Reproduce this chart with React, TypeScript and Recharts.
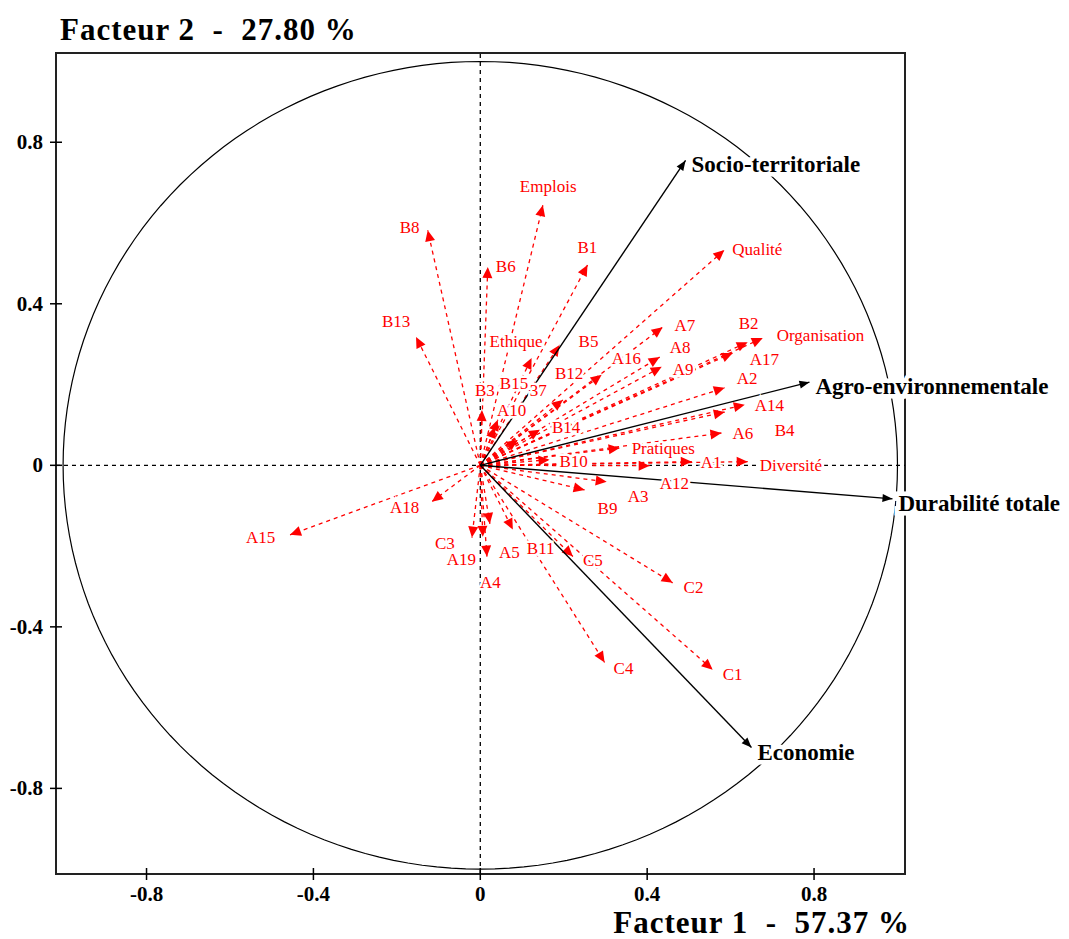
import React from "react";
import {
  ScatterChart,
  Scatter,
  XAxis,
  YAxis,
  ReferenceLine,
  ReferenceArea,
} from "recharts";

// variables (red dashed vectors)
const varNames = [
  "Emplois", "B8", "B6", "B1", "Qualité", "B13", "Ethique", "B5", "A7", "A16",
  "A8", "A9", "B12", "B2", "Organisation", "A17", "A2", "A14", "B4", "A6",
  "Pratiques", "A1", "Diversité", "B10", "A12", "A3", "B9", "B14", "A10", "B3",
  "B15", "37", "A18", "A15", "C3", "A19", "A4", "A5", "B11", "C5",
  "C2", "C1", "C4",
];
const varF1 = [
  0.150, -0.126, 0.018, 0.257, 0.585, -0.154, 0.123, 0.190, 0.437, 0.291,
  0.430, 0.435, 0.198, 0.641, 0.677, 0.605, 0.586, 0.634, 0.586, 0.578,
  0.334, 0.507, 0.641, 0.166, 0.406, 0.303, 0.250, 0.143, 0.035, 0.004,
  0.042, 0.090, -0.116, -0.456, -0.020, 0.006, 0.016, 0.023, 0.078, 0.222,
  0.461, 0.557, 0.298,
];
const varF2 = [
  0.644, 0.582, 0.491, 0.496, 0.533, 0.318, 0.266, 0.298, 0.342, 0.224,
  0.268, 0.244, 0.162, 0.305, 0.315, 0.278, 0.192, 0.150, 0.132, 0.080,
  0.043, 0.009, 0.009, 0.014, -0.001, -0.041, -0.061, 0.088, 0.095, 0.137,
  0.113, 0.063, -0.090, -0.172, -0.179, -0.177, -0.226, -0.145, -0.159, -0.226,
  -0.291, -0.506, -0.488,
];

// the four dimensions (black vectors)
const dimNames = ["Socio-territoriale", "Agro-environnementale", "Durabilité totale", "Economie"];
const dimF1 = [0.492, 0.789, 0.988, 0.65];
const dimF2 = [0.755, 0.206, -0.083, -0.699];

const axisTicks = [-0.8, -0.4, 0, 0.4, 0.8];

// label placement relative to arrow tip: [dx to text start, dy to text middle]
const labelNudge: Record<string, [number, number]> = {
  Emplois: [-23, -19], B8: [-28, -3], B6: [8, -1], B1: [-10, -18], "Qualité": [8, -1],
  B13: [-34, -16], Ethique: [-42, -17], B5: [19, -4], A7: [12, -2], A16: [10, -17],
  A8: [10, -10], A9: [11, 2], B12: [-8, -27], B2: [-9, -19], Organisation: [14, -3],
  A17: [17, 6], A2: [12, -10], A14: [10, 0], B4: [50, 18], A6: [11, 0],
  Pratiques: [12, 0], A1: [9, 0], "Diversité": [12, 3], B10: [10, 1], A12: [10, 17],
  A3: [21, 14], B9: [13, 18], B14: [12, -3], A10: [2, -17], B3: [-7, -20],
  B15: [2, -37], "37": [12, -50], A18: [-42, 5], A15: [-44, 2], C3: [-37, 5],
  A19: [-36, 22], A4: [-7, 25], A5: [9, 28], B11: [14, 18], C5: [10, 3],
  C2: [11, 4], C1: [10, 4], C4: [9, 6],
};

const W = 1069;
const H = 939;
const margin = { top: 53, right: 164, bottom: 25, left: 0 };
const yAxisW = 56;
const xAxisH = 40;
const xMin = -1.017;
const xMax = 1.018;
const yMin = -1.012;
const yMax = 1.021;
const plotW = W - margin.left - margin.right - yAxisW;
const plotH = H - margin.top - margin.bottom - xAxisH;
const kx = plotW / (xMax - xMin);
const ky = plotH / (yMax - yMin);

const RED = "#ff0000";
const SERIF = "'Liberation Serif', 'Times New Roman', serif";

const circle = Array.from({ length: 181 }, (_, i) => {
  const t = (i / 180) * Math.PI * 2;
  return { x: Math.cos(t), y: Math.sin(t) };
});

function headPoints(cx: number, cy: number, vx: number, vy: number, len: number, half: number) {
  const px = vx * kx;
  const py = -vy * ky;
  const n = Math.hypot(px, py) || 1;
  const ux = px / n;
  const uy = py / n;
  const bx = cx - ux * len;
  const by = cy - uy * len;
  return `${cx},${cy} ${bx - uy * half},${by + ux * half} ${bx + uy * half},${by - ux * half}`;
}

const redHead = (props: any) => {
  const { cx, cy, payload } = props;
  if (!payload || !payload.name) return <g />;
  return <polygon points={headPoints(cx, cy, payload.x, payload.y, 11, 5)} fill={RED} />;
};

const blackHead = (props: any) => {
  const { cx, cy, payload } = props;
  if (!payload || !payload.name) return <g />;
  return <polygon points={headPoints(cx, cy, payload.x, payload.y, 10, 4)} fill="#000" />;
};

const redLabel = (props: any) => {
  const { cx, cy, payload } = props;
  const [dx, dy] = labelNudge[payload.name] || [10, 0];
  return (
    <text
      x={cx + dx}
      y={cy + dy + 6}
      fill={RED}
      stroke="#fff"
      strokeWidth={5}
      paintOrder="stroke"
      fontFamily={SERIF}
      fontSize={17}
    >
      {payload.name}
    </text>
  );
};

const blackLabel = (props: any) => {
  const { cx, cy, payload } = props;
  return (
    <text
      x={cx + 6}
      y={cy + 12}
      fill="#000"
      stroke="#fff"
      strokeWidth={9}
      paintOrder="stroke"
      fontFamily={SERIF}
      fontWeight="bold"
      fontSize={23}
    >
      {payload.name}
    </text>
  );
};

const noDot = () => <g />;

const fmt = (v: number) => (v === 0 ? "0" : v.toFixed(1));

const XTick = (props: any) => {
  const { x, y, payload } = props;
  return (
    <g>
      <line x1={x} x2={x} y1={y - 6} y2={y + 6} stroke="#000" strokeWidth={1.5} />
      <text x={x} y={y + 27} textAnchor="middle" fontFamily={SERIF} fontWeight="bold" fontSize={21} fill="#000">
        {fmt(payload.value)}
      </text>
    </g>
  );
};

const YTick = (props: any) => {
  const { x, y, payload } = props;
  return (
    <g>
      <line x1={x - 6} x2={x + 6} y1={y} y2={y} stroke="#000" strokeWidth={1.5} />
      <text x={x - 13} y={y + 7} textAnchor="end" fontFamily={SERIF} fontWeight="bold" fontSize={21} fill="#000">
        {fmt(payload.value)}
      </text>
    </g>
  );
};

export default function App() {
  const vars = varNames.map((name, i) => ({ name, x: varF1[i], y: varF2[i] }));
  const dims = dimNames.map((name, i) => ({ name, x: dimF1[i], y: dimF2[i] }));

  return (
    <div style={{ position: "absolute", left: 0, top: 0, width: W, height: H, background: "#fff" }}>
      <ScatterChart width={W} height={H} margin={margin}>
        <XAxis
          type="number"
          dataKey="x"
          domain={[xMin, xMax]}
          ticks={axisTicks}
          height={xAxisH}
          tickSize={0}
          tickMargin={0}
          tickLine={false}
          axisLine={{ stroke: "#222", strokeWidth: 2 }}
          tick={<XTick />}
          interval={0}
        />
        <YAxis
          type="number"
          dataKey="y"
          domain={[yMin, yMax]}
          ticks={axisTicks}
          width={yAxisW}
          tickSize={0}
          tickMargin={0}
          tickLine={false}
          axisLine={{ stroke: "#222", strokeWidth: 2 }}
          tick={<YTick />}
          interval={0}
        />
        <ReferenceLine x={0} stroke="#000" strokeWidth={1.3} strokeDasharray="4 4" />
        <ReferenceLine y={0} stroke="#000" strokeWidth={1.3} strokeDasharray="4 4" />
        <Scatter
          data={circle}
          line={{ stroke: "#000", strokeWidth: 1.2 }}
          lineType="joint"
          shape={noDot}
          isAnimationActive={false}
        />
        {vars.map((v) => (
          <Scatter
            key={v.name}
            data={[{ x: 0, y: 0, name: "" }, v]}
            fill={RED}
            line={{ stroke: RED, strokeWidth: 1.3, strokeDasharray: "4 4" }}
            lineType="joint"
            shape={redHead}
            isAnimationActive={false}
          />
        ))}
        {dims.map((d) => (
          <Scatter
            key={d.name}
            data={[{ x: 0, y: 0, name: "" }, d]}
            fill="#000"
            line={{ stroke: "#000", strokeWidth: 1.4 }}
            lineType="joint"
            shape={blackHead}
            isAnimationActive={false}
          />
        ))}
        <Scatter data={vars} shape={redLabel} isAnimationActive={false} />
        <ReferenceArea
          x1={xMin}
          x2={xMax}
          y1={yMin}
          y2={yMax}
          fill="none"
          stroke="#222"
          strokeWidth={2}
          ifOverflow="visible"
        />
        <Scatter data={dims} shape={blackLabel} isAnimationActive={false} />
      </ScatterChart>
      <svg
        width={W}
        height={H}
        style={{ position: "absolute", left: 0, top: 0, pointerEvents: "none" }}
      >
        <text x={60} y={40} fontFamily={SERIF} fontWeight="bold" fontSize={31} letterSpacing={1} fill="#000" style={{ whiteSpace: "pre" }}>
          {"Facteur 2  -  27.80 %"}
        </text>
        <text x={910} y={933} textAnchor="end" fontFamily={SERIF} fontWeight="bold" fontSize={31} letterSpacing={1} fill="#000" style={{ whiteSpace: "pre" }}>
          {"Facteur 1  -  57.37 %"}
        </text>
      </svg>
    </div>
  );
}
